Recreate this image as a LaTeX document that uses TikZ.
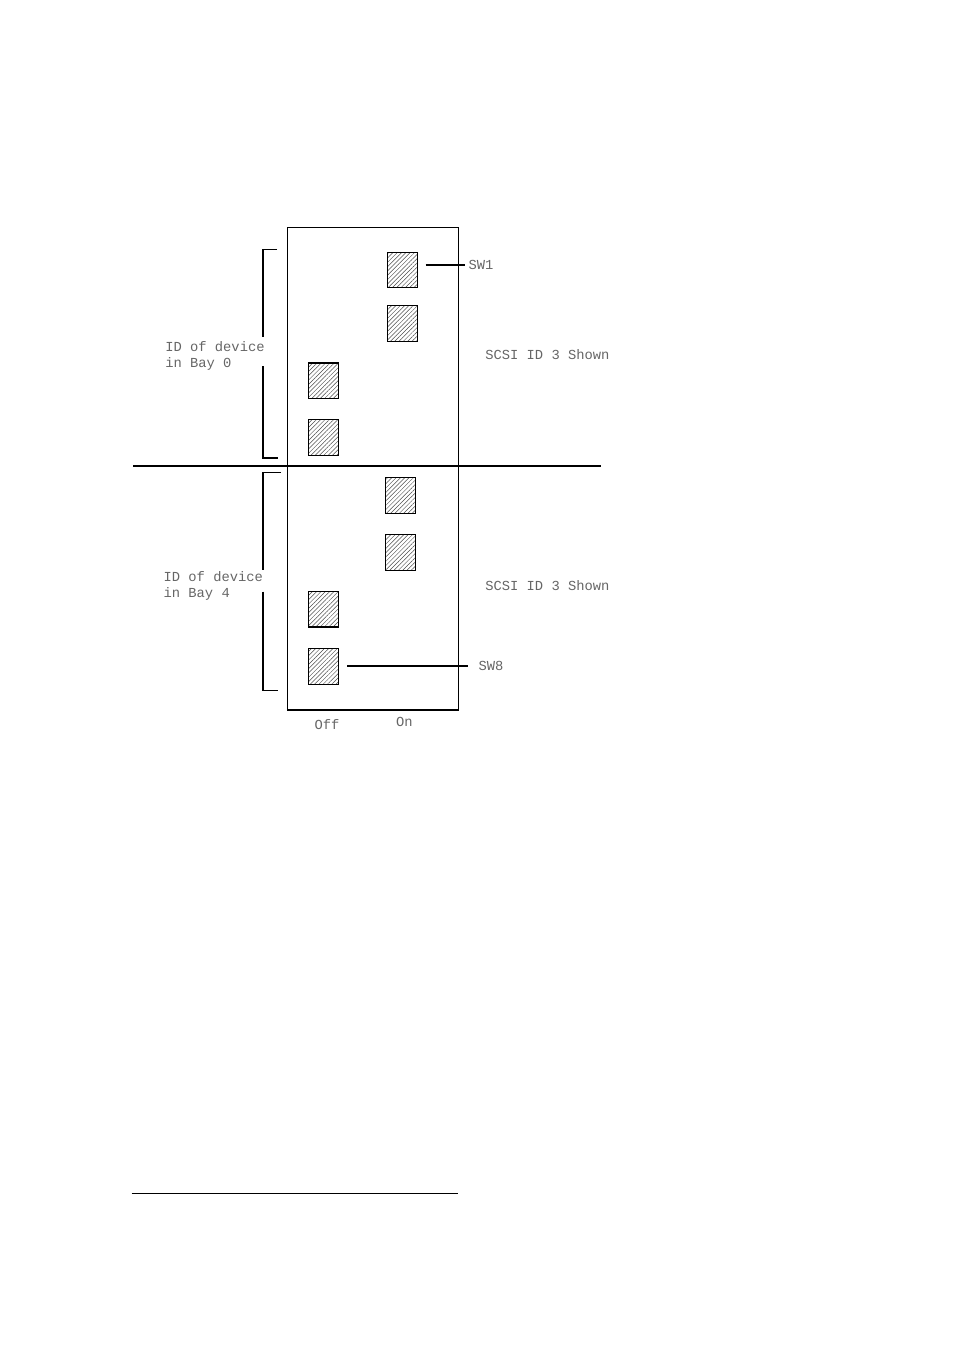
\documentclass[tikz,border=0pt]{standalone}
\usepackage{fontspec}
\setmonofont{Liberation Mono}
\usetikzlibrary{patterns.meta}

\begin{document}
\begin{tikzpicture}[
    x=0.6238pt, y=-0.6238pt,
    ln/.style={line width=0.7pt, black},
    dip/.style={draw, line width=0.7pt, minimum width=18.8pt, minimum height=22.2pt, inner sep=0pt,
        pattern={Lines[angle=45, distance=1.9pt, line width=0.3pt]}, pattern color=black!70},
    lbl/.style={font=\fontsize{8.6}{9}\selectfont\ttfamily, text=black!60, inner sep=0pt},
    lead/.style={ln, shorten <=5pt},
]
\useasboundingbox (0,0) rectangle (954,1352);

% Switch block
\draw[ln] (287.3,227.3) rectangle (458.3,710);
\draw[ln] (133.3,466) -- (601,466);

% Switches, bay 0
\node[dip] (s1) at (402.3,270) {};
\node[dip] (s2) at (402.3,323.7) {};
\node[dip] (s3) at (323.5,380.8) {};
\node[dip] (s4) at (323.5,437.7) {};
% Switches, bay 4
\node[dip] (s5) at (400.7,495.3) {};
\node[dip] (s6) at (400.7,552.3) {};
\node[dip] (s7) at (323.5,609.2) {};
\node[dip] (s8) at (323.5,666.3) {};

% Brackets
\draw[ln] (277,249.3) -- (263,249.3) -- (263,337);
\draw[ln] (263,366) -- (263,458) -- (278,458);
\draw[ln] (281,472.7) -- (263,472.7) -- (263,570);
\draw[ln] (263,591.7) -- (263,690.7) -- (278,690.7);

% Labels
\node[lbl, anchor=base west] (bay0a) at (165,351) {ID of device};
\node[lbl, anchor=base west] (bay0b) at (165,367) {in Bay 0};
\node[lbl, anchor=base west] (bay4a) at (163.3,581.5) {ID of device};
\node[lbl, anchor=base west] (bay4b) at (163.3,597.5) {in Bay 4};
\node[lbl, anchor=base west] (id0) at (485,359) {SCSI ID 3 Shown};
\node[lbl, anchor=base west] (id4) at (485,590) {SCSI ID 3 Shown};
\node[lbl, anchor=west] (sw1) at (468.3,265) {SW1};
\node[lbl, anchor=west] (sw8) at (478.3,666) {SW8};
\node[lbl, anchor=base west] (off) at (314.3,729.3) {Off};
\node[lbl, anchor=base west] (on) at (395.7,726.7) {On};

% Leaders
\draw[lead, shorten >=2pt] (s1.east |- sw1.west) -- (sw1.west);
\draw[lead, shorten >=6.5pt] (s8.east |- sw8.west) -- (sw8.west);

% Footnote rule
\draw[ln] (131.7,1193.3) -- (457.7,1193.3);
\end{tikzpicture}
\end{document}
